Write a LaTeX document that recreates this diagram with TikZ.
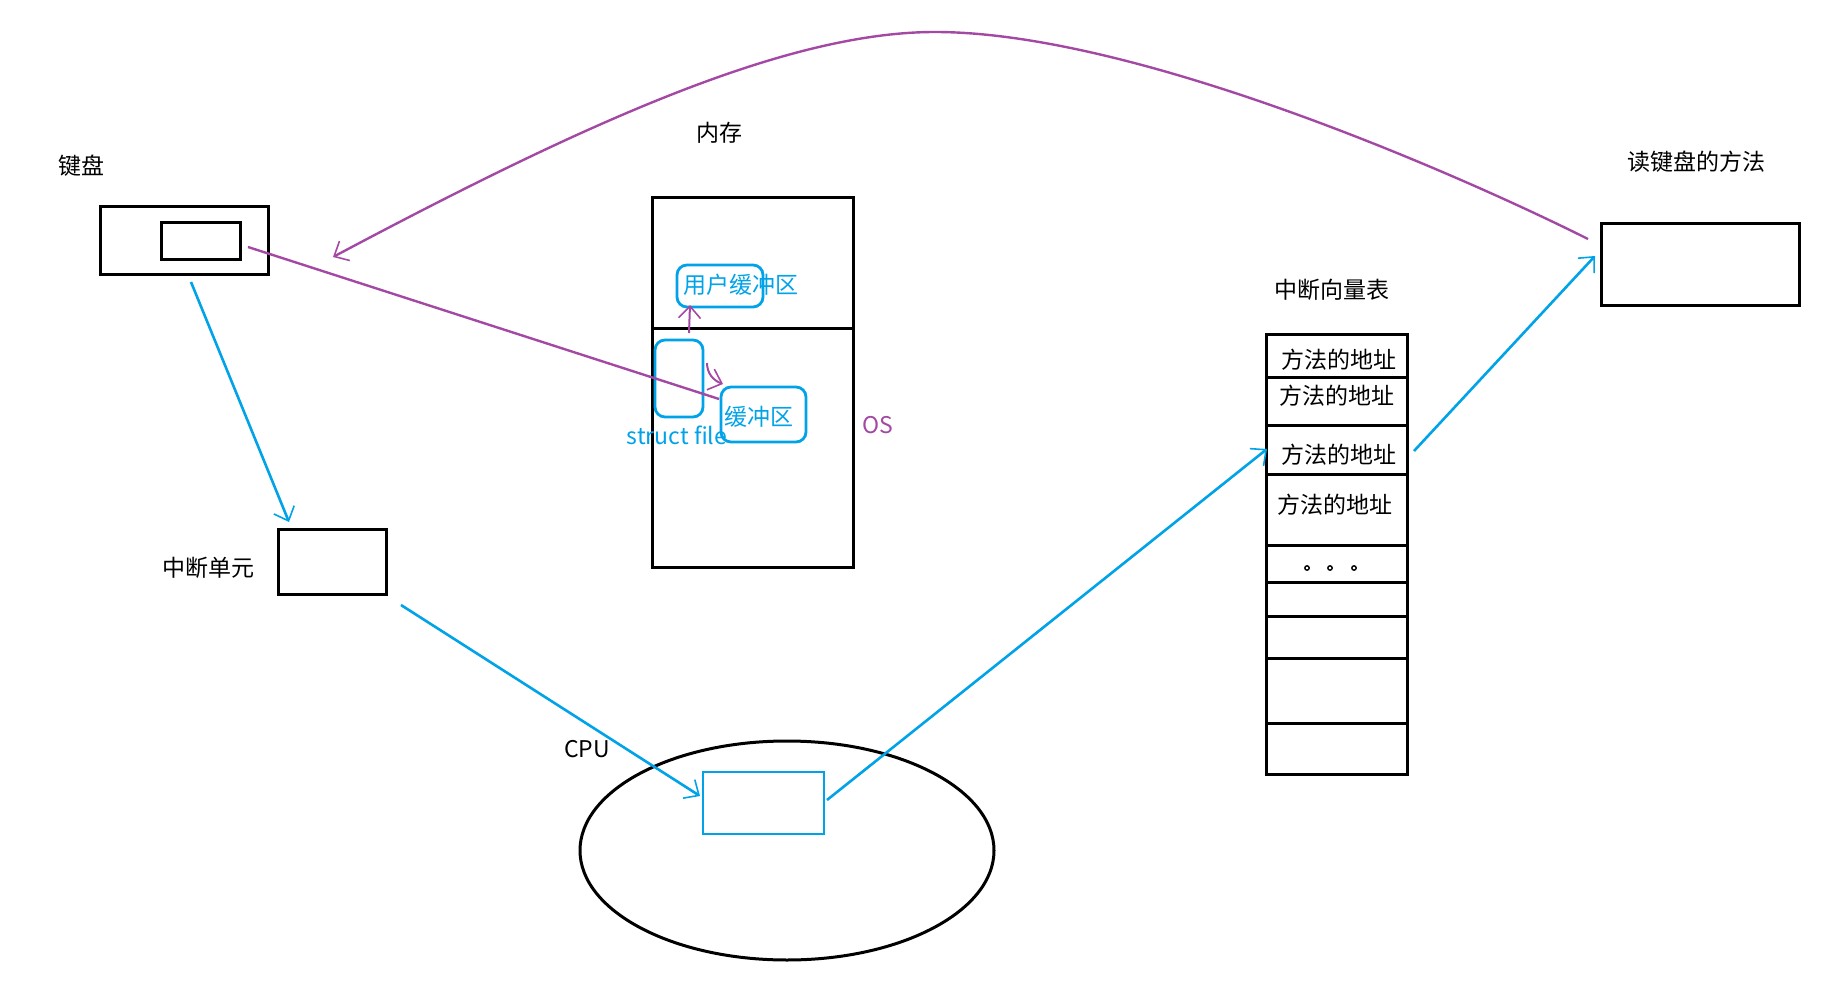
\documentclass[tikz,border=0pt]{standalone}
\usepackage{fontspec}
\setmainfont{Noto Sans CJK SC}
\usetikzlibrary{arrows.meta,fit,shapes.geometric}
\definecolor{pblue}{HTML}{00A2E8}
\definecolor{ppurple}{HTML}{A349A4}
\tikzset{
  box/.style={draw=black,line width=1.5pt,inner sep=0pt},
  bbox/.style={draw=pblue,line width=1.4pt,inner sep=0pt},
  rbox/.style={draw=pblue,line width=1.4pt,inner sep=0pt,rounded corners=5pt},
  lbl/.style={inner sep=0pt,font=\fontsize{11.5}{14}\selectfont},
  blbl/.style={lbl,text=pblue},
  plbl/.style={lbl,text=ppurple},
  barb/.tip={Straight Barb[length=6pt,width=11pt,line width=0.8pt]},
  bline/.style={draw=pblue,line width=1.3pt},
  pline/.style={draw=ppurple,line width=1.2pt},
}
\begin{document}
\begin{tikzpicture}[x=0.5pt,y=-0.5pt]
\useasboundingbox (0,0) rectangle (1848,990);
% keyboard
\node[lbl] (kbdlbl) at (81,166) {键盘};
\node[box,fit={(100,206)(268,274)}] (kbd) {};
\node[box,fit={(161,222)(240,259)}] (kbdin) {};
% memory
\node[lbl] (memlbl) at (719,133) {内存};
\node[box,fit={(652,197)(853,567)}] (mem) {};
\coordinate (divL) at (652,328);
\coordinate (divR) at (855,328);
\draw[line width=1.5pt] (divL) -- (divR);
\node[rbox,fit={(677,265)(763,307)}] (ubuf) {};
\node[blbl] (ubuflbl) at (741,285) {用户缓冲区};
\node[rbox,fit={(655,340)(703,417)}] (sfile) {};
\node[rbox,fit={(721,387)(806,442)}] (kbuf) {};
\node[blbl] (kbuflbl) at (759,417) {缓冲区};
\node[blbl] (sfilelbl) at (677,435) {struct file};
\node[plbl] (oslbl) at (878,425) {OS};
% interrupt unit
\node[box,fit={(278,529)(386,594)}] (intu) {};
\node[lbl] (intulbl) at (208,568) {中断单元};
% CPU
\node[draw,line width=1.5pt,ellipse,minimum width=207pt,minimum height=109.5pt,inner sep=0pt] (cpu) at (787,850.5) {};
\node[lbl] (cpulbl) at (587,749) {CPU};
\node[bbox,fit={(703,772)(824,834)}] (cpubox) {};
% interrupt vector table
\node[lbl] (ivtlbl) at (1332,290) {中断向量表};
\node[box,fit={(1266,334)(1407,774)}] (ivt) {};
\foreach \yy in {377,425,474,545,582,616,658,723}
  \draw[line width=1.5pt] (1266,\yy) -- (1407,\yy);
\node[lbl] (r1) at (1339,360) {方法的地址};
\node[lbl] (r2) at (1337,396) {方法的地址};
\node[lbl] (r3) at (1339,455) {方法的地址};
\node[lbl] (r4) at (1335,505) {方法的地址};
\foreach \xx in {1307,1330,1354}
  \draw[line width=0.7pt] (\xx,568) circle (2.2);
% method
\node[lbl] (methlbl) at (1696,162) {读键盘的方法};
\node[box,fit={(1601,223)(1799,305)}] (meth) {};
% connectors
\coordinate (k1) at (191,282);
\coordinate (i1) at (289,522);
\draw[bline,-barb] (k1) -- (i1);
\coordinate (i2) at (401,605);
\coordinate (c1) at (700,796);
\draw[bline,-barb] (i2) -- (c1);
\coordinate (c2) at (827,800);
\coordinate (t1) at (1267,449);
\draw[bline,-barb] (c2) -- (t1);
\coordinate (t2) at (1414,451);
\coordinate (m1) at (1595,256);
\draw[bline,-barb] (t2) -- (m1);
% purple
\coordinate (kin) at (248,247);
\coordinate (kb) at (719,399);
\draw[pline] (kin) -- (kb);
\coordinate (m2) at (1588,239);
\coordinate (apex) at (935,32);
\coordinate (k2) at (333,257);
\draw[pline,-barb] (m2) .. controls (1458,174) and (1135,32) .. (apex)
  .. controls (785,32) and (583,124) .. (k2);
\coordinate (s1) at (689,333);
\coordinate (u1) at (690,305);
\draw[draw=ppurple,line width=1pt,-barb] (s1) -- (u1);
\coordinate (s2) at (707,363);
\coordinate (b1) at (723,384);
\draw[draw=ppurple,line width=1pt,-barb] (s2) to[out=-90,in=160] (b1);
\end{tikzpicture}
\end{document}
